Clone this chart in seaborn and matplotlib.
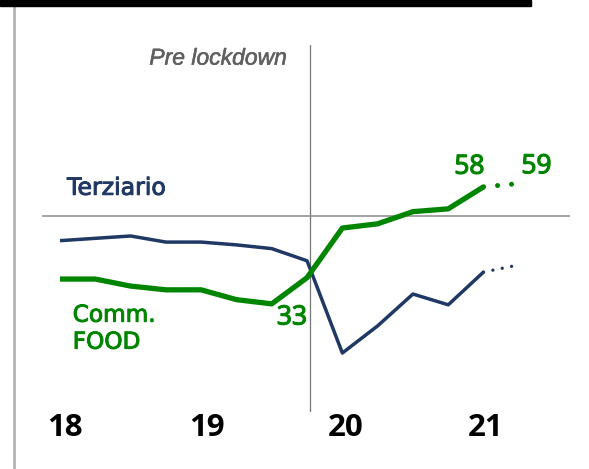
import matplotlib
matplotlib.use("Agg")
import matplotlib.pyplot as plt
import matplotlib.patheffects as pe
from matplotlib.patches import Rectangle
from matplotlib.lines import Line2D
import seaborn as sns
import pandas as pd

# ============================
# Données (trimestres, indice)
# ============================
quarters = list(range(13))
terziario = [46.5, 47.0, 47.5, 46.2, 46.2, 45.6, 44.8, 42.2, 22.5, 28.3, 35.1, 32.8, 39.8]
comm_food = [38.3, 38.3, 36.8, 36.0, 36.0, 33.9, 33.0, 38.6, 49.2, 50.1, 52.7, 53.3, 58.0]

# prolongement pointillé (stima)
next_quarter = 12.85
terziario_next = 41.1
comm_food_next = 58.6

year_labels = ["18", "19", "20", "21"]
year_pos = [0.15, 4.15, 8.1, 12.05]

lockdown_x = 7.08
reference_level = 51.8

NAVY = "#1f3864"
GREEN = "#008500"

df = pd.DataFrame({"q": quarters, "Terziario": terziario, "Comm. FOOD": comm_food})

sns.set_style("white")
fig = plt.figure(figsize=(5.89, 4.69), dpi=100)
ax = fig.add_axes([42 / 589, 57 / 469, 528 / 589, 367 / 469])

# lignes de référence
ax.axvline(lockdown_x, color="#777777", lw=0.9, zorder=1)
ax.axhline(reference_level, color="#8a8a8a", lw=1.1, zorder=1)

# séries
sns.lineplot(data=df, x="q", y="Terziario", ax=ax, color=NAVY, lw=2.5,
             solid_joinstyle="round", solid_capstyle="butt", zorder=3)
sns.lineplot(data=df, x="q", y="Comm. FOOD", ax=ax, color=GREEN, lw=3.8,
             solid_joinstyle="round", solid_capstyle="butt", zorder=4)

# prolongements en pointillés
ax.plot([quarters[-1], next_quarter], [terziario[-1], terziario_next],
        color=NAVY, lw=2.4, linestyle=(0, (0.01, 2.85)), dash_capstyle="round", zorder=3)
ax.plot([quarters[-1], next_quarter], [comm_food[-1], comm_food_next],
        color=GREEN, lw=3.6, linestyle=(0, (0.01, 2.8)), dash_capstyle="round", zorder=4)

# textes
def heavier(color, w=0.7):
    return [pe.withStroke(linewidth=w, foreground=color)]

ax.text(6.43, 85.5, "Pre lockdown", ha="right", va="center", style="italic",
        color="#606060", fontsize=16.5, family="Liberation Sans",
        path_effects=heavier("#606060", 0.4))
ax.text(0.2, 57.8, "Terziario", ha="left", va="center", color=NAVY,
        fontsize=17, family="DejaVu Sans", path_effects=heavier(NAVY))
ax.text(0.36, 27.7, "Comm.\nFOOD", ha="left", va="center", color=GREEN,
        fontsize=16.7, family="DejaVu Sans", linespacing=1.22,
        path_effects=heavier(GREEN))

num_font = dict(color=GREEN, fontsize=19, family="Open Sans", ha="center", va="center",
                path_effects=heavier(GREEN, 0.9))
ax.text(6.57, 30.0, f"{min(comm_food):.0f}", **num_font)
ax.text(11.6, 62.2, f"{comm_food[-1]:.0f}", **num_font)
ax.text(13.5, 62.3, "59", **num_font)

# axes
ax.set_xlim(-0.51, 14.45)
ax.set_ylim(9.9, 88.3)
ax.set_xticks(year_pos)
ax.set_xticklabels(year_labels, fontsize=22.5, fontweight="bold", family="Open Sans", color="black")
ax.tick_params(axis="x", length=0, pad=1)
ax.set_yticks([])
ax.set_xlabel("")
ax.set_ylabel("")
for s in ax.spines.values():
    s.set_visible(False)
ax.set_facecolor("white")

# bandeau noir et filet gris
fig.patches.append(Rectangle((0, 1 - 6 / 469), 531 / 589, 6 / 469,
                             transform=fig.transFigure, color="black", zorder=5))
fig.lines.append(Line2D([14 / 589, 14 / 589], [0, 1 - 6 / 469], transform=fig.transFigure,
                        color="#b3b3b3", lw=2.0))

fig.savefig("out.png", dpi=100)
